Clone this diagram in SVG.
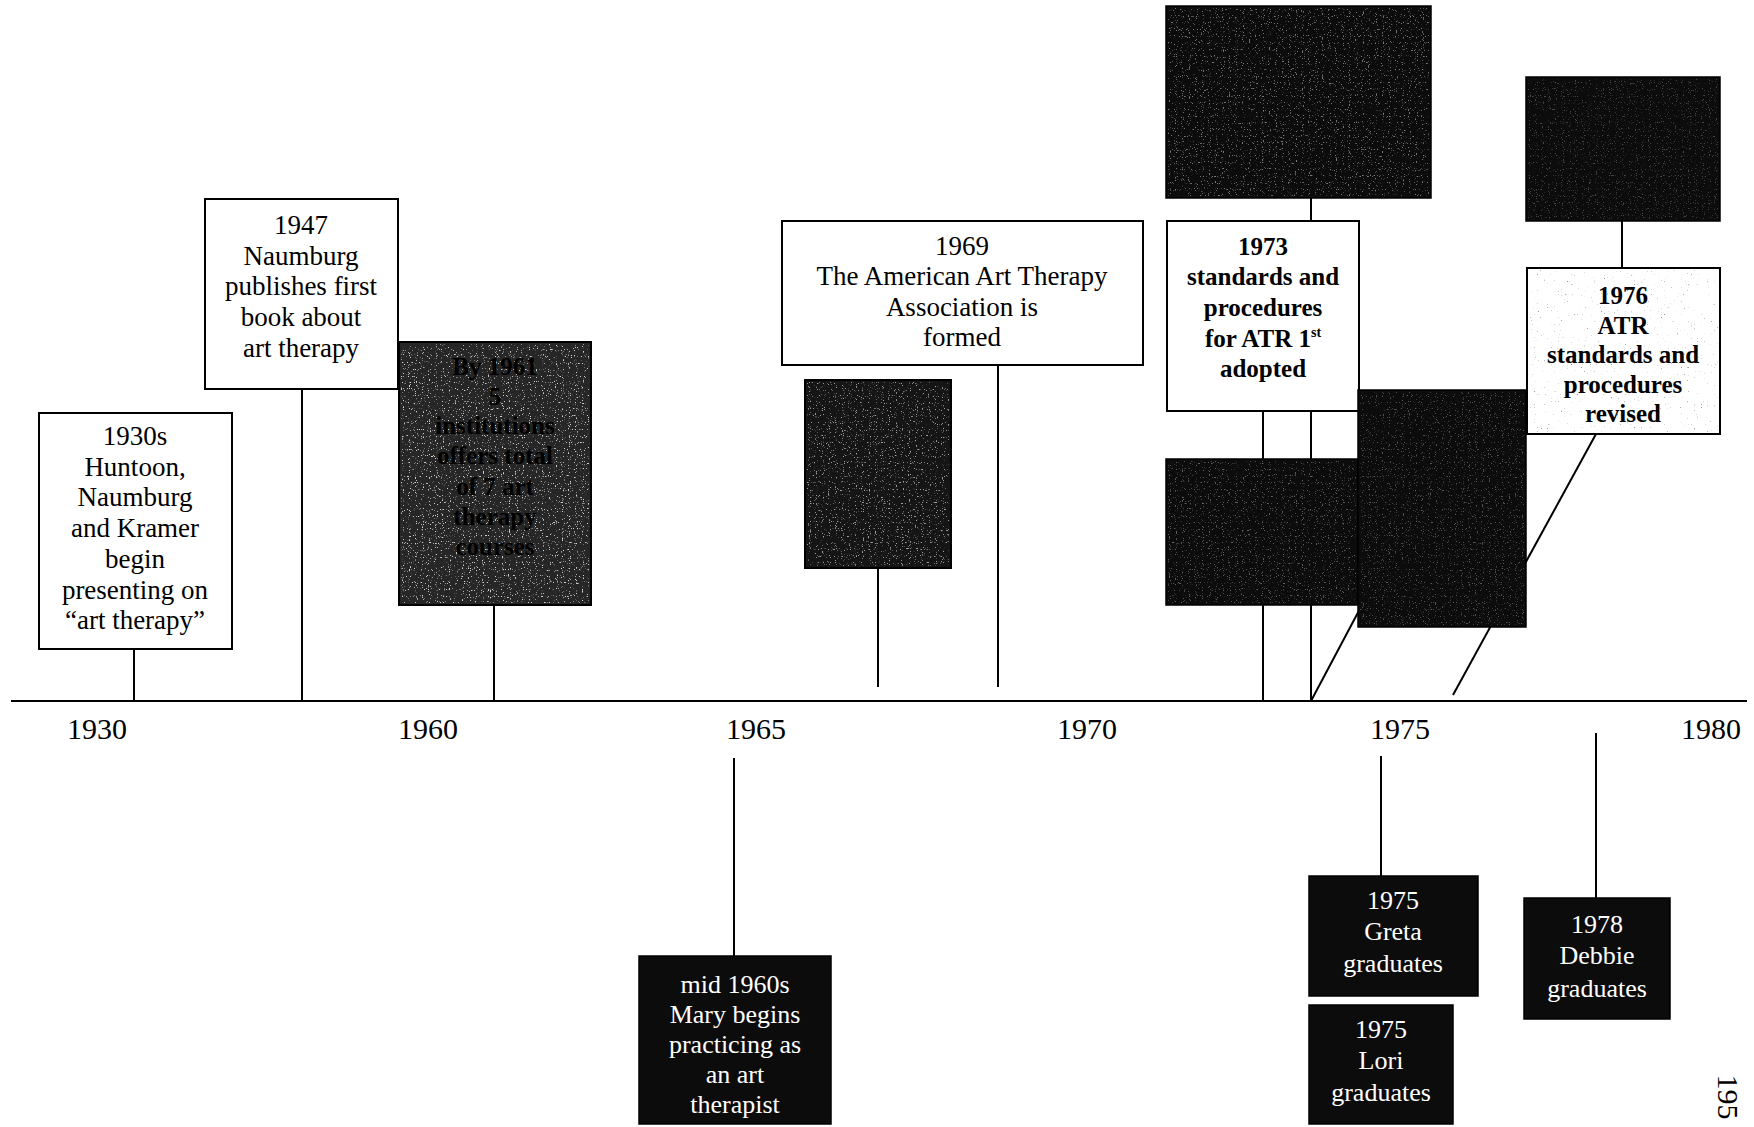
<svg xmlns="http://www.w3.org/2000/svg" width="1754" height="1127" viewBox="0 0 1754 1127">
<defs>
<filter id="speck" x="0" y="0" width="100%" height="100%">
<feTurbulence type="fractalNoise" baseFrequency="0.85" numOctaves="1" seed="4" result="n"/>
<feColorMatrix in="n" type="matrix" values="0 0 0 0 1  0 0 0 0 1  0 0 0 0 1  0 0 0 10 -6.2"/>
</filter>
<filter id="speckLight" x="0" y="0" width="100%" height="100%">
<feTurbulence type="fractalNoise" baseFrequency="0.7" numOctaves="1" seed="9" result="n"/>
<feColorMatrix in="n" type="matrix" values="0 0 0 0 0.2  0 0 0 0 0.2  0 0 0 0 0.2  0 0 0 10 -7"/>
</filter>
<style>
.ln{stroke:#000;stroke-width:2;fill:none}
.wbox{fill:#fff;stroke:#000;stroke-width:2}
.dbox{fill:#0c0c0c;stroke:#000;stroke-width:1.5}
.gbox{fill:#262626;stroke:#000;stroke-width:2}
.t{font-family:"Liberation Serif","Times New Roman",serif;font-size:27px;text-anchor:middle;fill:#000}
.b{font-family:"Liberation Serif","Times New Roman",serif;font-size:25px;font-weight:bold;text-anchor:middle;fill:#000}
.w{font-family:"Liberation Serif","Times New Roman",serif;font-size:26px;text-anchor:middle;fill:#fff}
.yr{font-family:"Liberation Serif","Times New Roman",serif;font-size:30px;text-anchor:middle;fill:#000}
</style>
</defs>
<rect width="1754" height="1127" fill="#fff"/>

<g id="connectors">
<line class="ln" x1="11" y1="701" x2="1747" y2="701"/>
<line class="ln" x1="134" y1="649" x2="134" y2="701"/>
<line class="ln" x1="302" y1="389" x2="302" y2="701"/>
<line class="ln" x1="494" y1="605" x2="494" y2="701"/>
<line class="ln" x1="878" y1="568" x2="878" y2="687"/>
<line class="ln" x1="998" y1="365" x2="998" y2="687"/>
<line class="ln" x1="1311" y1="198" x2="1311" y2="221"/>
<line class="ln" x1="1263" y1="411" x2="1263" y2="701"/>
<line class="ln" x1="1311" y1="411" x2="1311" y2="701"/>
<line class="ln" x1="1311" y1="701" x2="1362" y2="605"/>
<line class="ln" x1="1622" y1="221" x2="1622" y2="268"/>
<line class="ln" x1="1596" y1="434" x2="1453" y2="695"/>
<line class="ln" x1="734" y1="758" x2="734" y2="956"/>
<line class="ln" x1="1381" y1="756" x2="1381" y2="876"/>
<line class="ln" x1="1596" y1="733" x2="1596" y2="898"/>
</g>

<g id="axis-labels">
<text class="yr" x="97" y="739">1930</text>
<text class="yr" x="428" y="739">1960</text>
<text class="yr" x="756" y="739">1965</text>
<text class="yr" x="1087" y="739">1970</text>
<text class="yr" x="1400" y="739">1975</text>
<text class="yr" x="1711" y="739">1980</text>
</g>

<g id="node-1930s">
<rect class="wbox" x="39" y="413" width="193" height="236"/>
<text class="t" x="135" y="445">1930s</text>
<text class="t" x="135" y="476">Huntoon,</text>
<text class="t" x="135" y="506">Naumburg</text>
<text class="t" x="135" y="537">and Kramer</text>
<text class="t" x="135" y="568">begin</text>
<text class="t" x="135" y="599">presenting on</text>
<text class="t" x="135" y="629">“art therapy”</text>
</g>

<g id="node-1947">
<rect class="wbox" x="205" y="199" width="193" height="190"/>
<text class="t" x="301" y="234">1947</text>
<text class="t" x="301" y="265">Naumburg</text>
<text class="t" x="301" y="295">publishes first</text>
<text class="t" x="301" y="326">book about</text>
<text class="t" x="301" y="357">art therapy</text>
</g>

<g id="node-1961">
<rect class="gbox" x="399" y="342" width="192" height="263"/>
<rect x="401" y="344" width="188" height="259" filter="url(#speck)" opacity="0.8"/>
<text class="b" x="495" y="375">By 1961</text>
<text class="b" x="495" y="405">5</text>
<text class="b" x="495" y="434">institutions</text>
<text class="b" x="495" y="464">offers total</text>
<text class="b" x="495" y="495">of 7 art</text>
<text class="b" x="495" y="525">therapy</text>
<text class="b" x="495" y="555">courses</text>
</g>

<g id="node-1969-dark">
<rect class="gbox" x="805" y="380" width="146" height="188" style="fill:#151515"/>
<rect x="807" y="382" width="142" height="184" filter="url(#speck)" opacity="0.6"/>
</g>

<g id="node-1969">
<rect class="wbox" x="782" y="221" width="361" height="144"/>
<text class="t" x="962" y="255">1969</text>
<text class="t" x="962" y="285">The American Art Therapy</text>
<text class="t" x="962" y="316">Association is</text>
<text class="t" x="962" y="346">formed</text>
</g>

<g id="node-1973-top">
<rect class="dbox" x="1166" y="6" width="265" height="192"/>
<rect x="1168" y="8" width="261" height="188" filter="url(#speck)" opacity="0.45"/>
</g>

<g id="node-1973">
<rect class="wbox" x="1167" y="221" width="192" height="190"/>
<text class="b" x="1263" y="255">1973</text>
<text class="b" x="1263" y="285">standards and</text>
<text class="b" x="1263" y="316">procedures</text>
<text class="b" x="1263" y="347">for ATR 1<tspan font-size="14" dy="-10">st</tspan></text>
<text class="b" x="1263" y="377">adopted</text>
</g>

<g id="node-1973-low">
<rect class="dbox" x="1166" y="459" width="192" height="146"/>
<rect x="1168" y="461" width="188" height="142" filter="url(#speck)" opacity="0.35"/>
</g>

<g id="node-1974">
<rect class="dbox" x="1358" y="390" width="168" height="237"/>
<rect x="1360" y="392" width="164" height="233" filter="url(#speck)" opacity="0.3"/>
</g>

<g id="node-1976-top">
<rect class="dbox" x="1526" y="77" width="194" height="144"/>
<rect x="1528" y="79" width="190" height="140" filter="url(#speck)" opacity="0.25"/>
</g>

<g id="node-1976">
<rect class="wbox" x="1527" y="268" width="193" height="166"/>
<rect x="1529" y="270" width="189" height="162" filter="url(#speckLight)" opacity="0.8"/>
<text class="b" x="1623" y="304">1976</text>
<text class="b" x="1623" y="334">ATR</text>
<text class="b" x="1623" y="363">standards and</text>
<text class="b" x="1623" y="393">procedures</text>
<text class="b" x="1623" y="422">revised</text>
</g>

<g id="node-mid1960s">
<rect class="dbox" x="639" y="956" width="192" height="168"/>
<text class="w" x="735" y="993">mid 1960s</text>
<text class="w" x="735" y="1023">Mary begins</text>
<text class="w" x="735" y="1053">practicing as</text>
<text class="w" x="735" y="1083">an art</text>
<text class="w" x="735" y="1113">therapist</text>
</g>

<g id="node-1975-greta">
<rect class="dbox" x="1309" y="876" width="169" height="120"/>
<text class="w" x="1393" y="909">1975</text>
<text class="w" x="1393" y="940">Greta</text>
<text class="w" x="1393" y="972">graduates</text>
</g>

<g id="node-1975-lori">
<rect class="dbox" x="1309" y="1005" width="144" height="119"/>
<text class="w" x="1381" y="1038">1975</text>
<text class="w" x="1381" y="1069">Lori</text>
<text class="w" x="1381" y="1101">graduates</text>
</g>

<g id="node-1978-debbie">
<rect class="dbox" x="1524" y="898" width="146" height="121"/>
<text class="w" x="1597" y="933">1978</text>
<text class="w" x="1597" y="964">Debbie</text>
<text class="w" x="1597" y="997">graduates</text>
</g>

<text class="yr" transform="translate(1718,1097) rotate(90)" x="0" y="0">195</text>
</svg>
